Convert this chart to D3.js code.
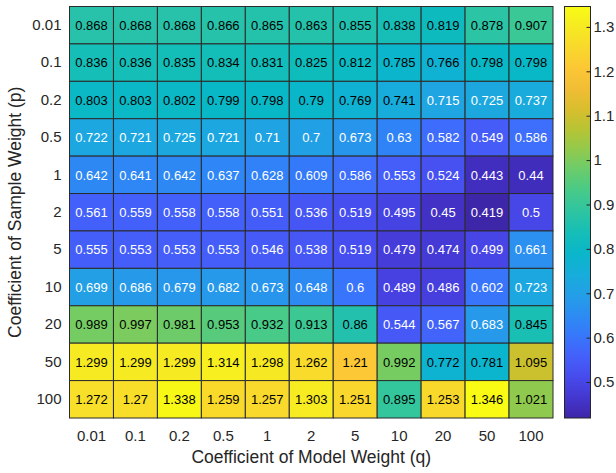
<!DOCTYPE html>
<html>
<head>
<meta charset="utf-8">
<script src="https://cdn.jsdelivr.net/npm/d3@7"></script>
<style>
  body { margin: 0; background: #fff; }
  text { font-family: "Liberation Sans", Arial, sans-serif; }
</style>
</head>
<body>
<div id="chart-area"></div>
<script>
// model weight (columns) and sample weight (rows)
const qLabels = ["0.01", "0.1", "0.2", "0.5", "1", "2", "5", "10", "20", "50", "100"];
const pLabels = ["0.01", "0.1", "0.2", "0.5", "1", "2", "5", "10", "20", "50", "100"];

// one array per row (p), values across q
const row001 = [0.868, 0.868, 0.868, 0.866, 0.865, 0.863, 0.855, 0.838, 0.819, 0.878, 0.907];
const row01  = [0.836, 0.836, 0.835, 0.834, 0.831, 0.825, 0.812, 0.785, 0.766, 0.798, 0.798];
const row02  = [0.803, 0.803, 0.802, 0.799, 0.798, 0.79, 0.769, 0.741, 0.715, 0.725, 0.737];
const row05  = [0.722, 0.721, 0.725, 0.721, 0.71, 0.7, 0.673, 0.63, 0.582, 0.549, 0.586];
const row1   = [0.642, 0.641, 0.642, 0.637, 0.628, 0.609, 0.586, 0.553, 0.524, 0.443, 0.44];
const row2   = [0.561, 0.559, 0.558, 0.558, 0.551, 0.536, 0.519, 0.495, 0.45, 0.419, 0.5];
const row5   = [0.555, 0.553, 0.553, 0.553, 0.546, 0.538, 0.519, 0.479, 0.474, 0.499, 0.661];
const row10  = [0.699, 0.686, 0.679, 0.682, 0.673, 0.648, 0.6, 0.489, 0.486, 0.602, 0.723];
const row20  = [0.989, 0.997, 0.981, 0.953, 0.932, 0.913, 0.86, 0.544, 0.567, 0.683, 0.845];
const row50  = [1.299, 1.299, 1.299, 1.314, 1.298, 1.262, 1.21, 0.992, 0.772, 0.781, 1.095];
const row100 = [1.272, 1.27, 1.338, 1.259, 1.257, 1.303, 1.251, 0.895, 1.253, 1.346, 1.021];
const rows = [row001, row01, row02, row05, row1, row2, row5, row10, row20, row50, row100];

const cbTicks = [0.5, 0.6, 0.7, 0.8, 0.9, 1, 1.1, 1.2, 1.3];

// parula colormap (sampled)
const parula = [
  [0.2422, 0.1504, 0.6603], [0.2706, 0.2147, 0.8364], [0.2813, 0.3006, 0.9414],
  [0.2699, 0.3892, 0.9906], [0.1963, 0.4847, 0.9892], [0.1687, 0.5703, 0.9359],
  [0.1248, 0.6459, 0.8883], [0.0689, 0.6948, 0.8394], [0.0067, 0.7312, 0.7660],
  [0.1408, 0.7584, 0.6842], [0.2161, 0.7843, 0.5923], [0.3406, 0.8008, 0.4789],
  [0.5044, 0.7993, 0.3480], [0.6720, 0.7793, 0.2227], [0.8203, 0.7498, 0.1535],
  [0.9393, 0.7288, 0.2100], [0.9970, 0.7659, 0.2199], [0.9786, 0.8386, 0.1766],
  [0.9597, 0.9135, 0.1423], [0.9769, 0.9839, 0.0805]
].map(c => d3.rgb(c[0] * 255, c[1] * 255, c[2] * 255).formatHex());

const cells = [];
rows.forEach((r, i) => r.forEach((v, j) => cells.push({ p: pLabels[i], q: qLabels[j], v: v })));

const vmin = d3.min(cells, d => d.v), vmax = d3.max(cells, d => d.v);
const interp = d3.interpolateRgbBasis(parula);
const color = d3.scaleSequential(interp).domain([vmin, vmax]);

let svg = d3.select("#chart-area").append("svg")
  .attr("width", 616)
  .attr("height", 473);

const mLeft = 69.5, mTop = 6.5, w = 483.5, h = 411.5;
const x = d3.scaleBand().domain(qLabels).range([mLeft, mLeft + w]);
const y = d3.scaleBand().domain(pLabels).range([mTop, mTop + h]);

svg.selectAll("rect.cell")
  .data(cells)
  .enter().append("rect")
  .attr("class", "cell")
  .attr("x", d => x(d.q))
  .attr("y", d => y(d.p))
  .attr("width", x.bandwidth())
  .attr("height", y.bandwidth())
  .attr("fill", d => color(d.v))
  .attr("stroke", "#2b2b2b")
  .attr("stroke-width", 1);

svg.selectAll("text.val")
  .data(cells)
  .enter().append("text")
  .attr("class", "val")
  .attr("x", d => x(d.q) + x.bandwidth() / 2)
  .attr("y", d => y(d.p) + y.bandwidth() / 2)
  .attr("dy", "0.36em")
  .attr("text-anchor", "middle")
  .attr("font-size", 13)
  .attr("fill", d => d.v < 0.74 ? "#ffffff" : "#000000")
  .text(d => d.v);

// axes
const xAxis = svg.append("g")
  .attr("transform", "translate(0," + (mTop + h) + ")")
  .call(d3.axisBottom(x).tickSize(0).tickPadding(12));
xAxis.select(".domain").remove();
xAxis.selectAll("text").attr("font-size", 15).attr("fill", "#262626")
  .style("font-family", "Liberation Sans, Arial, sans-serif");

const yAxis = svg.append("g")
  .attr("transform", "translate(" + mLeft + ",0)")
  .call(d3.axisLeft(y).tickSize(0).tickPadding(8));
yAxis.select(".domain").remove();
yAxis.selectAll("text").attr("font-size", 15).attr("fill", "#262626")
  .style("font-family", "Liberation Sans, Arial, sans-serif");

svg.append("text")
  .attr("x", mLeft + w / 2)
  .attr("y", 463)
  .attr("text-anchor", "middle")
  .attr("font-size", 17.5)
  .attr("fill", "#262626")
  .text("Coefficient of Model Weight (q)");

svg.append("text")
  .attr("transform", "translate(21," + (mTop + h / 2) + ") rotate(-90)")
  .attr("text-anchor", "middle")
  .attr("font-size", 17.5)
  .attr("fill", "#262626")
  .text("Coefficient of Sample Weight (p)");

// colorbar
const cbX = 564.5, cbW = 26;
const cy = d3.scaleLinear().domain([vmin, vmax]).range([mTop + h, mTop]);

const defs = svg.append("defs");
const grad = defs.append("linearGradient")
  .attr("id", "cbgrad")
  .attr("x1", 0).attr("y1", 1).attr("x2", 0).attr("y2", 0);
d3.range(0, 1.0001, 0.05).forEach(t => {
  grad.append("stop").attr("offset", t).attr("stop-color", interp(t));
});

svg.append("rect")
  .attr("x", cbX).attr("y", mTop)
  .attr("width", cbW).attr("height", h)
  .attr("fill", "url(#cbgrad)")
  .attr("stroke", "#262626")
  .attr("stroke-width", 1);

const cbAxis = svg.append("g")
  .attr("transform", "translate(" + (cbX + cbW) + ",0)")
  .call(d3.axisRight(cy).tickValues(cbTicks).tickSize(-4).tickPadding(3).tickFormat(d3.format("~g")));
cbAxis.select(".domain").remove();
cbAxis.selectAll("line").attr("stroke", "#262626");
cbAxis.selectAll("text").attr("font-size", 15).attr("fill", "#262626")
  .style("font-family", "Liberation Sans, Arial, sans-serif");
</script>
</body>
</html>
